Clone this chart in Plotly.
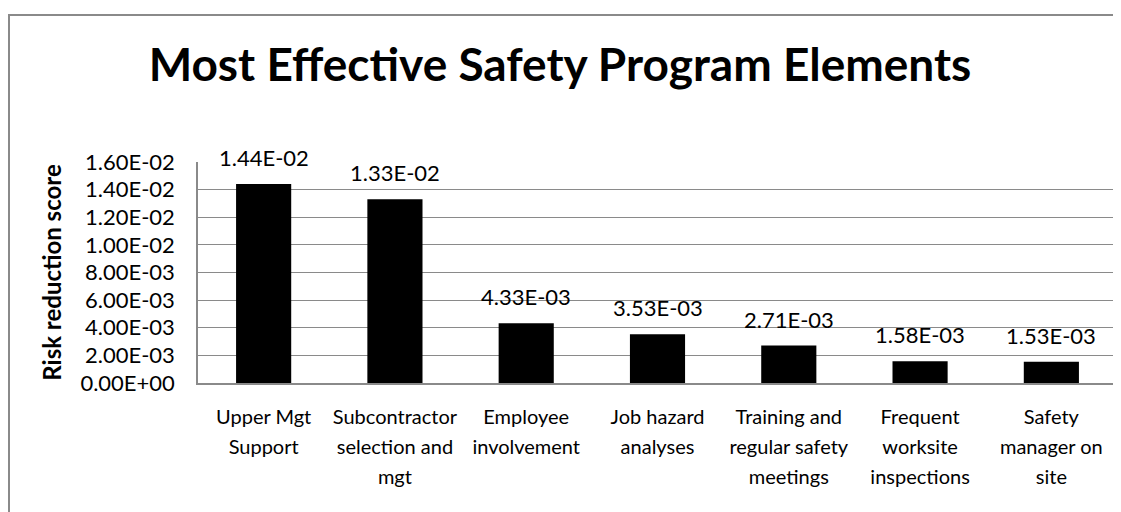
import plotly.graph_objects as go

categories = [
    "Upper Mgt<br>Support",
    "Subcontractor<br>selection and<br>mgt",
    "Employee<br>involvement",
    "Job hazard<br>analyses",
    "Training and<br>regular safety<br>meetings",
    "Frequent<br>worksite<br>inspections",
    "Safety<br>manager on<br>site",
]
values = [1.44e-2, 1.33e-2, 4.33e-3, 3.53e-3, 2.71e-3, 1.58e-3, 1.53e-3]
value_labels = ["1.44E-02", "1.33E-02", "4.33E-03", "3.53E-03", "2.71E-03", "1.58E-03", "1.53E-03"]
tick_vals = [0, 0.002, 0.004, 0.006, 0.008, 0.010, 0.012, 0.014, 0.016]
tick_text = ["0.00E+00", "2.00E-03", "4.00E-03", "6.00E-03", "8.00E-03",
             "1.00E-02", "1.20E-02", "1.40E-02", "1.60E-02"]

FONT = "Lato"
W, H = 1121, 512
OFF = 8  # default page body margin
L, R, T, B = 198 - OFF, 12, 162 - OFF, 137

def small_lines(label, size=20):
    return "<br>".join(f'<span style="font-size:{size}px">{p}</span>' for p in label.split("<br>"))

xs = list(range(len(categories)))

fig = go.Figure()
fig.add_trace(go.Bar(x=xs, y=values, marker=dict(color="black", line=dict(width=0)),
                     width=0.42, hoverinfo="skip"))

for x, v, t in zip(xs, values, value_labels):
    fig.add_annotation(x=x, y=v, text=t, showarrow=False, yanchor="bottom", yshift=11,
                       font=dict(family=FONT, size=22, color="black"))

pw = W - L - R
ph = H - T - B
fig.add_shape(type="rect", xref="paper", yref="paper",
              x0=(1 - L) / pw, x1=(W + 20 - L) / pw,
              y0=-(B + 20) / ph, y1=(H - B - 7) / ph,
              line=dict(color="#8a8a8a", width=2), fillcolor="rgba(0,0,0,0)", layer="below")

fig.update_layout(
    width=W, height=H,
    margin=dict(l=L, r=R, t=T, b=B, pad=0, autoexpand=False),
    paper_bgcolor="white", plot_bgcolor="white",
    showlegend=False,
    title=dict(text="<b>Most Effective Safety Program Elements</b>", x=(560 - OFF) / W, xref="container",
               xanchor="center", y=1 - 57 / H, yref="container", yanchor="middle",
               font=dict(family=FONT, size=46, color="black")),
)
fig.update_xaxes(
    tickmode="array", tickvals=xs, ticktext=[small_lines(c) for c in categories],
    tickfont=dict(family=FONT, size=23, color="black"),
    range=[-0.5, 6.5], showgrid=False, showline=True, linecolor="#8a8a8a", linewidth=1.5,
    ticks="", ticklabelstandoff=12, zeroline=False, fixedrange=True, tickangle=0, automargin=False,
)
fig.update_yaxes(
    tickmode="array", tickvals=tick_vals, ticktext=tick_text,
    tickfont=dict(family=FONT, size=22, color="black"),
    range=[0, 0.016], showgrid=True, gridcolor="#8a8a8a", gridwidth=1,
    showline=True, linecolor="#8a8a8a", linewidth=1.5, ticks="", ticklabelstandoff=17,
    zeroline=False, fixedrange=True, automargin=False,
    title=dict(text="<b>Risk reduction score</b>", standoff=12,
               font=dict(family=FONT, size=24, color="black")),
)

fig.write_html("out.html")
